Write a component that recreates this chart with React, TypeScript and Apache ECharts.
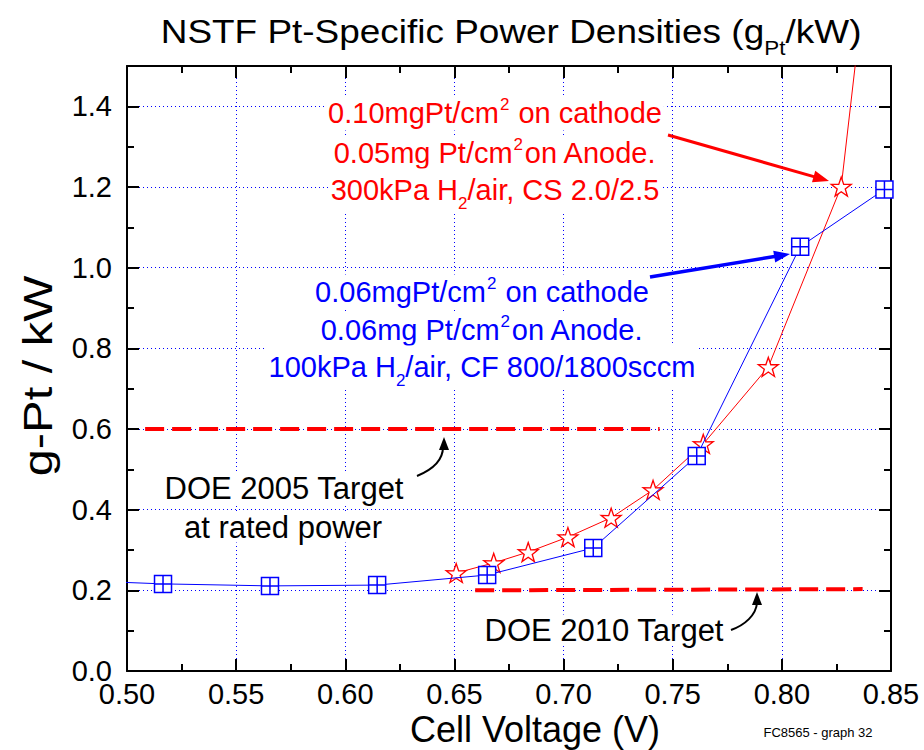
import React, { useEffect, useRef } from "react";
import * as echarts from "echarts";

// ---- data ----
const blueVoltage = [0.468, 0.5165, 0.5655, 0.6146, 0.665, 0.7136, 0.761, 0.8084, 0.847];
const blueGPt = [0.226, 0.216, 0.211, 0.213, 0.238, 0.305, 0.533, 1.052, 1.194];
const redVoltage = [0.6508, 0.668, 0.6838, 0.702, 0.7218, 0.741, 0.764, 0.7938, 0.8272, 0.8357];
const redGPt = [0.243, 0.268, 0.295, 0.332, 0.38, 0.449, 0.563, 0.754, 1.201, 1.6];
const doe2005X = [0.5083, 0.744];
const doe2005Y = [0.6, 0.6];
const doe2010X = [0.6595, 0.837];
const doe2010Y = [0.2, 0.203];

const X_MIN = 0.5, X_MAX = 0.85, X_STEP = 0.05;
const Y_MIN = 0, Y_MAX = 1.5, Y_STEP = 0.2, Y_MINOR = 0.1;

const FONT = "'Liberation Sans', Arial, Helvetica, sans-serif";
const RED = "#ff0000";
const BLUE = "#0000ff";

const STAR = "path://M50,0 L61.8,35.1 L97.6,34.5 L69.1,56.7 L79.4,90.5 L50,70 L20.6,90.5 L30.9,56.7 L2.4,34.5 L38.2,35.1 Z";
const SQUARE = "path://M0,0 L10,0 L10,10 L0,10 Z M5,0 L5,10 M0,5 L10,5";

function hiddenIfOutside(xs: number[], ys: number[]) {
  return xs.map((x, i) => {
    const inside = x >= X_MIN && x <= X_MAX && ys[i] >= Y_MIN && ys[i] <= Y_MAX;
    return inside ? [x, ys[i]] : { value: [x, ys[i]], symbol: "none" };
  });
}

function arrow(x1: number, y1: number, x2: number, y2: number, color: string, w: number, hl: number, hw: number) {
  const dx = x2 - x1, dy = y2 - y1;
  const len = Math.sqrt(dx * dx + dy * dy);
  const ux = dx / len, uy = dy / len;
  const bx = x2 - ux * hl, by = y2 - uy * hl;
  const px = -uy * hw, py = ux * hw;
  return [
    { type: "line", z: 5, shape: { x1, y1, x2: bx + ux * 2, y2: by + uy * 2 }, style: { stroke: color, lineWidth: w } },
    { type: "polygon", z: 5, shape: { points: [[x2, y2], [bx + px, by + py], [bx - px, by - py]] }, style: { fill: color } },
  ];
}

function txt(x: number, y: number, text: string, size: number, color: string, extra: any = {}) {
  const sup = { fontSize: 17, fontFamily: FONT, fill: color, padding: [0, 1, 18, 1] };
  const sub = { fontSize: 17, fontFamily: FONT, fill: color, padding: [26, 0, 0, 0] };
  return {
    type: "text",
    x,
    y,
    z: 1,
    ...extra,
    style: {
      text,
      fontSize: size,
      fontFamily: FONT,
      fill: color,
      align: "center",
      verticalAlign: "middle",
      textAlign: "center",
      textVerticalAlign: "middle",
      backgroundColor: extra.noBg ? undefined : "#ffffff",
      padding: [0, 2],
      rich: { sup, sub },
    },
  };
}

export default function App() {
  const ref = useRef<HTMLDivElement>(null);
  useEffect(() => {
    if (!ref.current) return;
    const chart = echarts.init(ref.current, undefined, { renderer: "svg" });
    const tickStyle = { color: "#000", width: 2 };
    const axisLine = { show: true, onZero: false, lineStyle: { color: "#000", width: 2 } };
    const grid = { show: true, lineStyle: { color: BLUE, width: 1, type: [1, 3] } };
    const xCommon = { type: "value", min: X_MIN, max: X_MAX, interval: X_STEP, axisLine, axisTick: { inside: true, length: 12, lineStyle: tickStyle }, minorTick: { show: true, splitNumber: 2, length: 7, lineStyle: tickStyle } };
    const option: any = {
      animation: false,
      backgroundColor: "#ffffff",
      grid: { left: 127, right: 33, top: 66, bottom: 79 },
      xAxis: [
        {
          ...xCommon,
          position: "bottom",
          axisLabel: { formatter: (v: number) => v.toFixed(2), fontSize: 29, color: "#000", margin: 8, fontFamily: FONT },
          splitLine: grid,
        },
        { ...xCommon, position: "top", axisLabel: { show: false }, splitLine: { show: false } },
      ],
      yAxis: [
        {
          type: "value", min: Y_MIN, max: Y_MAX, interval: Y_STEP, position: "left", axisLine,
          axisTick: { inside: true, length: 12, lineStyle: tickStyle },
          axisLabel: { formatter: (v: number) => v.toFixed(1), fontSize: 29, color: "#000", margin: 15, fontFamily: FONT, showMaxLabel: false },
          splitLine: grid,
        },
        {
          type: "value", min: Y_MIN, max: Y_MAX, interval: Y_STEP, position: "right", axisLine,
          axisTick: { inside: true, length: 12, lineStyle: tickStyle },
          axisLabel: { show: false }, splitLine: { show: false },
        },
        {
          type: "value", min: Y_MIN, max: Y_MAX, interval: Y_MINOR, position: "left", axisLine: { show: false },
          axisTick: { inside: true, length: 7, lineStyle: tickStyle },
          axisLabel: { show: false }, splitLine: { show: false },
        },
        {
          type: "value", min: Y_MIN, max: Y_MAX, interval: Y_MINOR, position: "right", axisLine: { show: false },
          axisTick: { inside: true, length: 7, lineStyle: tickStyle },
          axisLabel: { show: false }, splitLine: { show: false },
        },
      ],
      series: [
        {
          type: "line", data: doe2005X.map((x, i) => [x, doe2005Y[i]]), symbol: "none", z: 2,
          lineStyle: { color: RED, width: 4, type: [19, 8] },
        },
        {
          type: "line", data: doe2010X.map((x, i) => [x, doe2010Y[i]]), symbol: "none", z: 2,
          lineStyle: { color: RED, width: 4, type: [19, 8] },
        },
        {
          type: "line", data: hiddenIfOutside(redVoltage, redGPt), symbol: STAR, symbolSize: [20, 19], z: 3,
          itemStyle: { color: "#ffffff", borderColor: RED, borderWidth: 1.3 },
          lineStyle: { color: RED, width: 1 },
        },
        {
          type: "line", data: hiddenIfOutside(blueVoltage, blueGPt), symbol: SQUARE, symbolSize: 17, z: 4,
          itemStyle: { color: "#ffffff", borderColor: BLUE, borderWidth: 1.5 },
          lineStyle: { color: BLUE, width: 1 },
        },
      ],
      graphic: [
        { ...txt(511, 31, "NSTF Pt-Specific Power Densities (g{sub|Pt}/kW)", 33, "#000", { noBg: true, scaleX: 1.12 }),
          style: { text: "NSTF Pt-Specific Power Densities (g{sub|Pt}/kW)", fontSize: 33, fontFamily: FONT, fill: "#000", align: "center", verticalAlign: "middle", textAlign: "center", textVerticalAlign: "middle", rich: { sub: { fontSize: 20, fontFamily: FONT, fill: "#000", padding: [34, 0, 0, 0] } } } },
        { ...txt(38, 376, "g-Pt / kW", 40, "#000", { noBg: true, rotation: Math.PI / 2, scaleX: 1.22 }) },
        txt(535, 729, "Cell Voltage (V)", 36, "#000", { noBg: true }),
        txt(818, 732, "FC8565 - graph 32", 13, "#000", { noBg: true }),
        txt(495, 113, "0.10mgPt/cm{sup|2} on cathode", 29, RED),
        txt(495, 153, "0.05mg Pt/cm{sup|2}on Anode.", 29, RED),
        txt(495, 190, "300kPa H{sub|2}/air, CS 2.0/2.5", 29, RED),
        txt(482, 292, "0.06mgPt/cm{sup|2} on cathode", 29, BLUE),
        txt(482, 330, "0.06mg Pt/cm{sup|2}on Anode.", 29, BLUE),
        txt(482, 367, "100kPa H{sub|2}/air, CF 800/1800sccm", 29, BLUE),
        txt(284, 488, "DOE 2005 Target", 31, "#000"),
        txt(283, 527, "at rated power", 31, "#000"),
        txt(604, 630, "DOE 2010 Target", 31, "#000"),
        ...arrow(668, 135, 829, 181, RED, 3, 16, 6),
        ...arrow(650, 277, 790, 254, BLUE, 3.5, 16, 6),
        { type: "bezierCurve", z: 5, shape: { x1: 417, y1: 476, cpx1: 434, cpy1: 469, cpx2: 443, cpy2: 460, x2: 443, y2: 447 }, style: { stroke: "#000", lineWidth: 2, fill: null } },
        { type: "polygon", z: 5, shape: { points: [[444, 437], [439, 450], [449, 450]] }, style: { fill: "#000" } },
        { type: "bezierCurve", z: 5, shape: { x1: 731, y1: 630, cpx1: 745, cpy1: 625, cpx2: 756, cpy2: 615, x2: 757, y2: 603 }, style: { stroke: "#000", lineWidth: 2, fill: null } },
        { type: "polygon", z: 5, shape: { points: [[757, 592], [752, 605], [762, 605]] }, style: { fill: "#000" } },
      ],
    };
    chart.setOption(option);
    return () => chart.dispose();
  }, []);
  return <div ref={ref} style={{ position: "fixed", left: 0, top: 0, width: 924, height: 750, background: "#fff" }} />;
}
